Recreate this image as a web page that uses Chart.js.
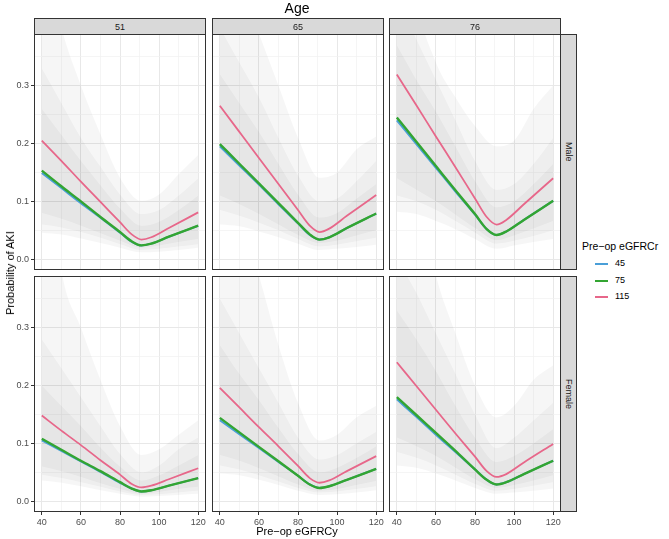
<!DOCTYPE html>
<html>
<head>
<title>Probability of AKI</title>
<script src="https://cdn.jsdelivr.net/npm/chart.js"></script>
<style>
  body { margin: 0; background: #fff; font-family: "Liberation Sans", Arial, sans-serif; }
  #wrap { position: relative; width: 669px; height: 539px; overflow: hidden; }
  canvas { position: absolute; }
  .strip { position: absolute; background: #d9d9d9; border: 1px solid #333; box-sizing: border-box;
           font-size: 9px; color: #1a1a1a; display: flex; align-items: center; justify-content: center; }
  .strip.side { writing-mode: vertical-rl; }
  .txt { position: absolute; white-space: nowrap; color: #000; }
  .key { position: absolute; width: 13px; height: 2px; }
</style>
</head>
<body>
<div id="wrap"></div>
<script>
// x positions (Pre-op eGFRCy): fitted lines and confidence bands
const X_LINE = [40, 50, 60, 70, 80, 86, 91, 96, 105, 120];
const X_BAND = [40, 50, 60, 70, 80, 91, 100, 110, 120];
const X_GRID = [40, 50, 60, 70, 80, 90, 100, 110, 120];
const X_TICKS = [40, 60, 80, 100, 120];
const Y_GRID = [0, 0.05, 0.1, 0.15, 0.2, 0.25, 0.3, 0.35];
const Y_TICKS = [0, 0.1, 0.2, 0.3];
const AGES = ['51', '65', '76'];
const SEXES = ['Male', 'Female'];
const GROUPS = ['45', '75', '115'];

// Male, age 51
const m51_45  = [0.149, 0.123, 0.097, 0.072, 0.046, 0.030, 0.024, 0.027, 0.039, 0.058];
const m51_75  = [0.153, 0.126, 0.100, 0.073, 0.047, 0.031, 0.024, 0.027, 0.039, 0.058];
const m51_115 = [0.205, 0.170, 0.134, 0.099, 0.064, 0.043, 0.034, 0.038, 0.054, 0.081];
const m51_upA = [0.55, 0.40, 0.30, 0.216, 0.141, 0.101, 0.112, 0.147, 0.18];
const m51_loA = [0.046, 0.043, 0.036, 0.028, 0.020, 0.012, 0.013, 0.016, 0.020];
const m51_upB = [0.33, 0.27, 0.21, 0.16, 0.112, 0.078, 0.085, 0.11, 0.14];
const m51_loB = [0.06, 0.055, 0.047, 0.037, 0.026, 0.016, 0.018, 0.022, 0.026];
const m51_upC = [0.26, 0.215, 0.17, 0.128, 0.088, 0.058, 0.065, 0.085, 0.11];
const m51_loC = [0.08, 0.07, 0.058, 0.045, 0.032, 0.02, 0.024, 0.03, 0.035];

// Male, age 65
const m65_45  = [0.195, 0.162, 0.129, 0.095, 0.062, 0.042, 0.034, 0.038, 0.054, 0.079];
const m65_75  = [0.199, 0.165, 0.131, 0.097, 0.063, 0.043, 0.034, 0.038, 0.054, 0.079];
const m65_115 = [0.265, 0.220, 0.175, 0.130, 0.085, 0.058, 0.047, 0.053, 0.075, 0.111];
const m65_upA = [0.6, 0.48, 0.39, 0.30, 0.21, 0.141, 0.15, 0.19, 0.212];
const m65_loA = [0.06, 0.057, 0.048, 0.038, 0.027, 0.016, 0.018, 0.021, 0.025];
const m65_upB = [0.40, 0.34, 0.28, 0.21, 0.145, 0.10, 0.105, 0.135, 0.17];
const m65_loB = [0.085, 0.075, 0.063, 0.05, 0.035, 0.022, 0.025, 0.031, 0.037];
const m65_upC = [0.32, 0.27, 0.22, 0.165, 0.112, 0.072, 0.08, 0.105, 0.13];
const m65_loC = [0.11, 0.095, 0.078, 0.06, 0.042, 0.028, 0.032, 0.041, 0.05];

// Male, age 76
const m76_45  = [0.240, 0.199, 0.158, 0.117, 0.077, 0.052, 0.042, 0.048, 0.068, 0.101];
const m76_75  = [0.245, 0.203, 0.161, 0.119, 0.078, 0.052, 0.042, 0.048, 0.068, 0.101];
const m76_115 = [0.319, 0.266, 0.212, 0.159, 0.105, 0.073, 0.060, 0.068, 0.095, 0.140];
const m76_upA = [0.7, 0.45, 0.34, 0.28, 0.23, 0.195, 0.205, 0.26, 0.30];
const m76_loA = [0.082, 0.078, 0.066, 0.052, 0.035, 0.018, 0.024, 0.03, 0.035];
const m76_upB = [0.45, 0.38, 0.31, 0.24, 0.17, 0.12, 0.13, 0.165, 0.21];
const m76_loB = [0.11, 0.1, 0.085, 0.066, 0.046, 0.027, 0.032, 0.04, 0.05];
const m76_upC = [0.37, 0.31, 0.255, 0.195, 0.135, 0.09, 0.1, 0.13, 0.165];
const m76_loC = [0.14, 0.12, 0.1, 0.077, 0.054, 0.033, 0.041, 0.053, 0.066];

// Female, age 51
const f51_45  = [0.105, 0.087, 0.069, 0.051, 0.032, 0.022, 0.017, 0.019, 0.027, 0.040];
const f51_75  = [0.108, 0.089, 0.070, 0.052, 0.033, 0.022, 0.017, 0.019, 0.027, 0.040];
const f51_115 = [0.148, 0.122, 0.097, 0.071, 0.046, 0.030, 0.024, 0.027, 0.038, 0.057];
const f51_upA = [0.7, 0.40, 0.30, 0.21, 0.13, 0.08, 0.09, 0.115, 0.14];
const f51_loA = [0.036, 0.032, 0.026, 0.019, 0.013, 0.008, 0.009, 0.011, 0.013];
const f51_upB = [0.28, 0.23, 0.18, 0.13, 0.082, 0.05, 0.062, 0.09, 0.11];
const f51_loB = [0.046, 0.04, 0.033, 0.025, 0.017, 0.011, 0.012, 0.015, 0.018];
const f51_upC = [0.2, 0.165, 0.13, 0.093, 0.06, 0.036, 0.045, 0.062, 0.08];
const f51_loC = [0.06, 0.052, 0.042, 0.031, 0.021, 0.013, 0.016, 0.021, 0.025];

// Female, age 65
const f65_45  = [0.140, 0.116, 0.092, 0.068, 0.044, 0.029, 0.023, 0.026, 0.037, 0.056];
const f65_75  = [0.144, 0.119, 0.094, 0.069, 0.044, 0.029, 0.023, 0.026, 0.037, 0.056];
const f65_115 = [0.196, 0.162, 0.128, 0.095, 0.061, 0.040, 0.032, 0.036, 0.052, 0.078];
const f65_upA = [0.8, 0.5, 0.39, 0.27, 0.17, 0.105, 0.115, 0.145, 0.165];
const f65_loA = [0.048, 0.045, 0.037, 0.028, 0.018, 0.011, 0.012, 0.015, 0.019];
const f65_upB = [0.35, 0.29, 0.23, 0.17, 0.11, 0.072, 0.08, 0.1, 0.12];
const f65_loB = [0.062, 0.055, 0.045, 0.034, 0.023, 0.015, 0.017, 0.021, 0.026];
const f65_upC = [0.27, 0.22, 0.175, 0.127, 0.082, 0.05, 0.058, 0.075, 0.095];
const f65_loC = [0.08, 0.07, 0.057, 0.043, 0.029, 0.018, 0.021, 0.028, 0.035];

// Female, age 76
const f76_45  = [0.176, 0.146, 0.115, 0.085, 0.055, 0.037, 0.029, 0.033, 0.047, 0.070];
const f76_75  = [0.180, 0.149, 0.118, 0.087, 0.055, 0.037, 0.029, 0.033, 0.047, 0.070];
const f76_115 = [0.240, 0.199, 0.158, 0.117, 0.077, 0.052, 0.042, 0.047, 0.067, 0.099];
const f76_upA = [0.8, 0.55, 0.39, 0.29, 0.2, 0.145, 0.165, 0.21, 0.235];
const f76_loA = [0.062, 0.058, 0.048, 0.036, 0.023, 0.013, 0.015, 0.018, 0.022];
const f76_upB = [0.42, 0.36, 0.29, 0.22, 0.15, 0.092, 0.11, 0.14, 0.17];
const f76_loB = [0.085, 0.075, 0.062, 0.046, 0.03, 0.018, 0.021, 0.027, 0.033];
const f76_upC = [0.33, 0.28, 0.225, 0.165, 0.11, 0.068, 0.078, 0.1, 0.125];
const f76_loC = [0.11, 0.095, 0.078, 0.058, 0.038, 0.023, 0.028, 0.036, 0.045];

const PANELS = [
  [m51_45, m51_75, m51_115, [[m51_upA, m51_loA], [m51_upB, m51_loB], [m51_upC, m51_loC]]],
  [m65_45, m65_75, m65_115, [[m65_upA, m65_loA], [m65_upB, m65_loB], [m65_upC, m65_loC]]],
  [m76_45, m76_75, m76_115, [[m76_upA, m76_loA], [m76_upB, m76_loB], [m76_upC, m76_loC]]],
  [f51_45, f51_75, f51_115, [[f51_upA, f51_loA], [f51_upB, f51_loB], [f51_upC, f51_loC]]],
  [f65_45, f65_75, f65_115, [[f65_upA, f65_loA], [f65_upB, f65_loB], [f65_upC, f65_loC]]],
  [f76_45, f76_75, f76_115, [[f76_upA, f76_loA], [f76_upB, f76_loB], [f76_upC, f76_loC]]]
];

const COLORS = ['#4a9fd8', '#33a532', '#e7678a'];
const RIBBON = 'rgba(0,0,0,0.037)';
const COL_LEFT = [34, 212, 389];
const ROW_TOP = [34, 276];
const PW = 172, PH = 236;

Chart.defaults.font.family = '"Liberation Sans", Arial, sans-serif';
const wrap = document.getElementById('wrap');

function pts(xs, arr) { return xs.map((x, i) => ({ x: x, y: arr[i] })); }
function isMajor(list, v) { return v !== undefined && list.some(t => Math.abs(t - v) < 1e-9); }

const panelBorder = {
  id: 'panelBorder',
  afterDraw(chart) {
    const a = chart.chartArea, c = chart.ctx;
    c.save();
    c.strokeStyle = '#333';
    c.lineWidth = 1;
    c.strokeRect(a.left + 0.5, a.top + 0.5, a.right - a.left - 1, a.bottom - a.top - 1);
    c.restore();
  }
};

function addText(txt, css) {
  const d = document.createElement('div');
  d.className = 'txt';
  d.textContent = txt;
  Object.assign(d.style, css);
  wrap.appendChild(d);
  return d;
}

PANELS.forEach((p, k) => {
  const r = Math.floor(k / 3), c = k % 3;
  const left = c === 0, bottom = r === 1;
  const cv = document.createElement('canvas');
  cv.width = 40 + PW + 12;
  cv.height = 8 + PH + 26;
  cv.style.left = (COL_LEFT[c] - 40) + 'px';
  cv.style.top = (ROW_TOP[r] - 8) + 'px';
  wrap.appendChild(cv);

  const datasets = [];
  const lineOrder = [1, 0, 2]; // 75 drawn on top of 45, then 115
  lineOrder.forEach((g, j) => {
    datasets.push({
      label: GROUPS[g], data: pts(X_LINE, p[g]), borderColor: COLORS[g],
      borderWidth: g === 1 ? 2.4 : (g === 0 ? 2 : 1.8),
      pointRadius: 0, fill: false, cubicInterpolationMode: 'monotone', order: j
    });
  });
  p[3].forEach(([up, lo]) => {
    datasets.push({ data: pts(X_BAND, up), fill: '+1', backgroundColor: RIBBON, borderColor: 'rgba(0,0,0,0)',
                    borderWidth: 0, pointRadius: 0, cubicInterpolationMode: 'monotone', order: 5 });
    datasets.push({ data: pts(X_BAND, lo), fill: false, borderColor: 'rgba(0,0,0,0)',
                    borderWidth: 0, pointRadius: 0, cubicInterpolationMode: 'monotone', order: 5 });
  });

  new Chart(cv, {
    type: 'line',
    data: { datasets: datasets },
    plugins: [panelBorder],
    options: {
      responsive: false, animation: false, devicePixelRatio: 1,
      layout: { padding: { left: 0, top: 8, right: 12, bottom: 0 } },
      plugins: { legend: { display: false }, tooltip: { enabled: false } },
      scales: {
        x: {
          type: 'linear', min: 36, max: 124,
          afterBuildTicks: s => { s.ticks = X_GRID.map(v => ({ value: v })); },
          afterFit: s => { s.height = 26; s.paddingLeft = 0; s.paddingRight = 0; },
          ticks: { display: bottom, autoSkip: false, maxRotation: 0, padding: 2, color: '#4d4d4d', font: { size: 9 },
                   callback: v => isMajor(X_TICKS, v) ? String(v) : '' },
          grid: { color: ctx => isMajor(X_TICKS, ctx.tick && ctx.tick.value) ? '#e8e8e8' : '#f0f0f0',
                  lineWidth: ctx => isMajor(X_TICKS, ctx.tick && ctx.tick.value) ? 1 : 0.7,
                  drawTicks: bottom, tickLength: 3, tickWidth: 1,
                  tickColor: ctx => isMajor(X_TICKS, ctx.tick && ctx.tick.value) ? '#333' : 'rgba(0,0,0,0)' },
          border: { display: false }
        },
        y: {
          type: 'linear', min: -0.0185, max: 0.389,
          afterBuildTicks: s => { s.ticks = Y_GRID.map(v => ({ value: v })); },
          afterFit: s => { s.width = 40; s.paddingTop = 0; s.paddingBottom = 0; },
          ticks: { display: left, autoSkip: false, padding: 2, color: '#4d4d4d', font: { size: 9 },
                   callback: v => isMajor(Y_TICKS, v) ? v.toFixed(1) : '' },
          grid: { color: ctx => isMajor(Y_TICKS, ctx.tick && ctx.tick.value) ? '#e8e8e8' : '#f0f0f0',
                  lineWidth: ctx => isMajor(Y_TICKS, ctx.tick && ctx.tick.value) ? 1 : 0.7,
                  drawTicks: left, tickLength: 3, tickWidth: 1,
                  tickColor: ctx => isMajor(Y_TICKS, ctx.tick && ctx.tick.value) ? '#333' : 'rgba(0,0,0,0)' },
          border: { display: false }
        }
      }
    }
  });
});

// facet strips
AGES.forEach((a, c) => {
  const s = document.createElement('div');
  s.className = 'strip';
  s.textContent = a;
  Object.assign(s.style, { left: COL_LEFT[c] + 'px', top: '18px', width: PW + 'px', height: '17px' });
  wrap.appendChild(s);
});
SEXES.forEach((sx, r) => {
  const s = document.createElement('div');
  s.className = 'strip side';
  s.textContent = sx;
  Object.assign(s.style, { left: (COL_LEFT[2] + PW - 1) + 'px', top: ROW_TOP[r] + 'px', width: '17px', height: PH + 'px' });
  wrap.appendChild(s);
});

// titles
addText('Age', { left: '297px', top: '0px', fontSize: '14px', transform: 'translateX(-50%)' });
addText('Pre\u2212op eGFRCy', { left: '297px', top: '525px', fontSize: '11px', transform: 'translateX(-50%)' });
addText('Probability of AKI', { left: '10px', top: '273px', fontSize: '11px', transform: 'translate(-50%,-50%) rotate(-90deg)' });

// legend
addText('Pre\u2212op eGFRCr', { left: '582px', top: '240px', fontSize: '10.5px' });
GROUPS.forEach((g, i) => {
  const y = [264, 280.5, 296.5][i];
  const k = document.createElement('div');
  k.className = 'key';
  Object.assign(k.style, { left: '595px', top: (y - 1) + 'px', background: COLORS[i] });
  wrap.appendChild(k);
  addText(g, { left: '615px', top: (y - 6) + 'px', fontSize: '9px' });
});
</script>
</body>
</html>
